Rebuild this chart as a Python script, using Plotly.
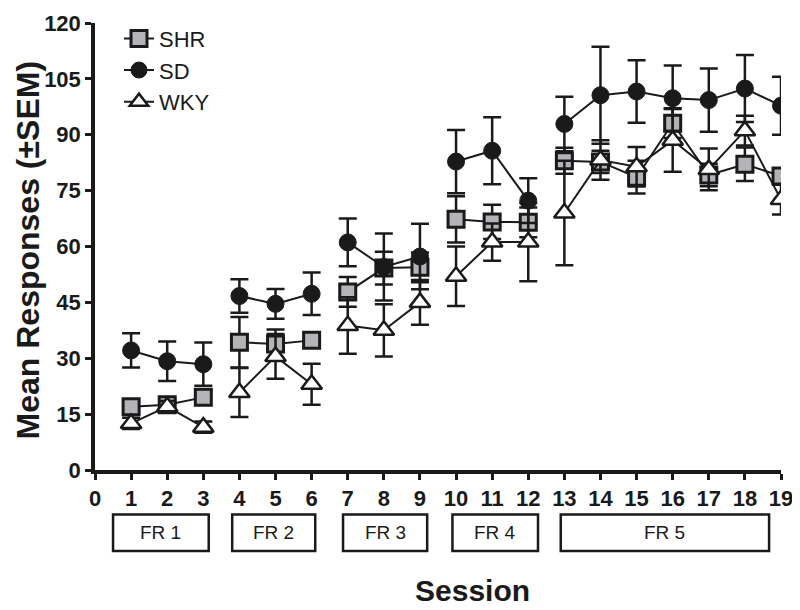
import plotly.graph_objects as go

sessions = list(range(1, 20))
blocks = [(1, 3), (4, 6), (7, 9), (10, 12), (13, 19)]
block_labels = ["FR 1", "FR 2", "FR 3", "FR 4", "FR 5"]
block_box_x = [(0.5, 3.15), (3.8, 6.1), (6.87, 9.2), (9.9, 12.27), (12.9, 18.67)]

shr = [17, 17.5, 19.5, 34.3, 33.8, 34.8, 47.8, 54.2, 54.4, 67.3, 66.6, 66.5,
       83.0, 82.7, 78.6, 93.1, 79.2, 82.1, 78.9]
shr_err = [1.5, 1.5, 2, 6.8, 3.9, 2, 4, 4.4, 4, 6.2, 4.6, 4, 3.5, 3, 4.4, 4, 3, 4.5, 2]
sd = [32.1, 29.2, 28.4, 46.7, 44.6, 47.3, 61.1, 54.5, 57.3, 82.8, 85.7, 72.3,
      92.9, 100.6, 101.6, 99.8, 99.3, 102.4, 97.8]
sd_err = [4.6, 5.3, 5.8, 4.5, 4, 5.7, 6.4, 9, 8.8, 8.5, 9, 6, 7.3, 13, 8.4, 8.8, 8.5, 9, 7.8]
wky = [12.5, 17, 11.5, 20.8, 30.5, 23.0, 38.8, 37.5, 45.0, 52.0, 61.2, 61.2,
       69.0, 83.2, 81.4, 88.5, 80.7, 91.1, 72.6]
wky_err = [1.5, 1.5, 1.5, 6.6, 6, 5.5, 7.6, 7, 6, 8, 5, 10.5, 14, 5.3, 5.3, 8.4, 5.6, 4, 4]

FONT = "Liberation Sans, Arial, Helvetica"
INK = "#1a1a1a"

series = [
    ("SHR", shr, shr_err, dict(symbol="square", size=16, color="#b3b3b8",
                                line=dict(color=INK, width=3))),
    ("SD", sd, sd_err, dict(symbol="circle", size=17, color=INK,
                             line=dict(color=INK, width=1))),
    ("WKY", wky, wky_err, dict(symbol="triangle-up", size=18, color="white",
                                line=dict(color=INK, width=2.5))),
]

fig = go.Figure()
for name, vals, errs, marker in series:
    for bi, (a, b) in enumerate(blocks):
        fig.add_trace(go.Scatter(
            x=sessions[a - 1:b], y=vals[a - 1:b], name=name, legendgroup=name,
            showlegend=(bi == 0), mode="lines+markers",
            line=dict(color=INK, width=2),
            marker=marker,
            error_y=dict(type="data", array=errs[a - 1:b], visible=True, color=INK,
                         thickness=2.5, width=9),
        ))

for (x0, x1), lab in zip(block_box_x, block_labels):
    fig.add_shape(type="rect", xref="x", yref="paper", x0=x0, x1=x1,
                  y0=-0.181, y1=-0.0996, line=dict(color=INK, width=2.5),
                  fillcolor="white")
    fig.add_annotation(xref="x", yref="paper", x=(x0 + x1) / 2, y=-0.1403,
                       text=lab, showarrow=False, yanchor="middle", xanchor="center",
                       font=dict(family=FONT, size=19, color=INK))

fig.add_annotation(xref="paper", yref="paper", x=(472 - 95) / 686, y=-(592 - 470) / 452,
                   text="<b>Session</b>", showarrow=False, yanchor="middle",
                   xanchor="center", font=dict(family=FONT, size=30, color=INK))
fig.add_annotation(xref="paper", yref="paper", x=(28 - 95) / 686, y=(470 - 248) / 452,
                   text="<b>Mean Responses (±SEM)</b>", showarrow=False, textangle=-90,
                   yanchor="middle", xanchor="center",
                   font=dict(family=FONT, size=32, color=INK))

# page body adds an 8px offset, so margins are shifted by 8px
fig.update_layout(
    width=800, height=610,
    margin=dict(l=87, r=27, t=10, b=148),
    paper_bgcolor="white", plot_bgcolor="white",
    showlegend=True,
    legend=dict(x=0.035, y=1.012, xanchor="left", yanchor="top",
                font=dict(family=FONT, size=22, color=INK),
                bgcolor="rgba(0,0,0,0)", tracegroupgap=0, itemwidth=30),
    font=dict(family=FONT, color=INK),
)
fig.update_xaxes(range=[0, 19], tickmode="array", tickvals=list(range(0, 20)),
                 ticktext=[f"<b>{i}</b>" for i in range(0, 20)],
                 showline=True, linecolor=INK, linewidth=3.5,
                 ticks="outside", ticklen=6, tickwidth=3, tickcolor=INK,
                 showgrid=False, zeroline=False, automargin=False,
                 ticklabeloverflow="allow",
                 tickfont=dict(size=22, family=FONT, color=INK))
fig.update_yaxes(range=[0, 120], tickmode="array", tickvals=list(range(0, 121, 15)),
                 ticktext=[f"<b>{v}</b>" for v in range(0, 121, 15)],
                 showline=True, linecolor=INK, linewidth=3.5,
                 ticks="outside", ticklen=6, tickwidth=3, tickcolor=INK,
                 showgrid=False, zeroline=False, automargin=False,
                 ticklabeloverflow="allow",
                 tickfont=dict(size=22, family=FONT, color=INK))

fig.write_html("out.html")
